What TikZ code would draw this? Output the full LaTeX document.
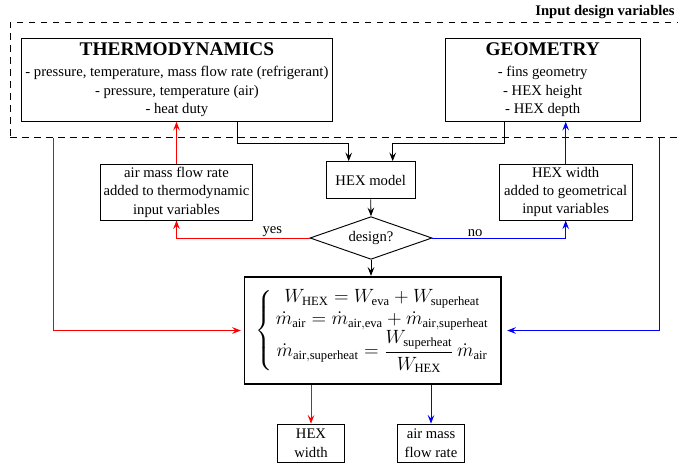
\documentclass[tikz,border=0pt]{standalone}
\usepackage{amsmath}
\usepackage{fontspec}
\setmainfont{Liberation Serif}
\usetikzlibrary{shapes.geometric,arrows.meta}

\begin{document}
\begin{tikzpicture}[x=0.75pt, y=-0.75pt,
                    every node/.style={font=\fontsize{11}{13.7}\selectfont,
                                       align=center,
                                       inner sep=1pt},
                    box/.style={draw, line width=0.7pt},
                    conn/.style={line width=0.6pt,
                                 -{Stealth[length=6.5pt, width=5pt, inset=2.5pt]}},
                    hot/.style={conn, red},
                    cold/.style={conn, blue}]

  \useasboundingbox (0,0) rectangle (678,466);

  \node[draw, line width=0.7pt, dash pattern=on 5pt off 4pt,
        minimum width=506pt, minimum height=86.8pt] (inputs) at (347.65,79.85) {};
  \node[anchor=base east, font=\fontsize{11}{13}\selectfont\bfseries] (inlabel) at (676.3,15.7) {Input design variables};

  \node[box, minimum width=233.8pt, minimum height=62.3pt] (thermo) at (176.9,79.8)
       {{\fontsize{14.5}{16}\selectfont\bfseries THERMODYNAMICS}\\[2pt]
        - pressure, temperature, mass flow rate (refrigerant)\\
        - pressure, temperature (air)\\
        - heat duty};
  \node[box, minimum width=146pt, minimum height=62.3pt] (geom) at (542.7,79.8)
       {{\fontsize{14.5}{16}\selectfont\bfseries GEOMETRY}\\[2pt]
        - fins geometry\\
        - HEX height\\
        - HEX depth};

  \node[box, minimum width=67pt, minimum height=28pt] (model) at (370.7,180.3) {HEX model};
  \node[box, minimum width=113.7pt, minimum height=41.8pt] (airadd) at (176.5,192.2)
       {air mass flow rate\\ added to thermodynamic\\ input variables};
  \node[box, minimum width=99.5pt, minimum height=41.8pt] (widthadd) at (565.7,192.2)
       {HEX width\\ added to geometrical\\ input variables};
  \node[box, diamond, aspect=2.8, inner sep=0pt,
        minimum width=91.5pt, minimum height=32pt] (design) at (371,238) {design?};

  \node[box, line width=1.3pt, minimum width=192.5pt, minimum height=80.7pt,
        font=\fontsize{13.5}{16}\selectfont] (eqs) at (372.7,330.5)
       {$\displaystyle\left\{\begin{array}{@{\,}c@{}}
          W_{\mathrm{HEX}} = W_{\mathrm{eva}} + W_{\mathrm{superheat}}\\
          \dot m_{\mathrm{air}} = \dot m_{\mathrm{air,eva}} + \dot m_{\mathrm{air,superheat}}\\
          \dot m_{\mathrm{air,superheat}} = \dfrac{W_{\mathrm{superheat}}}{W_{\mathrm{HEX}}}\,\dot m_{\mathrm{air}}
        \end{array}\right.$};

  \node[box, minimum width=50pt, minimum height=28.7pt] (outw) at (311,443.2) {HEX\\ width};
  \node[box, minimum width=50pt, minimum height=28.7pt] (outm) at (431,443.2) {air mass\\ flow rate};

  \draw[conn] ([xshift=45.6pt]thermo.south) -- ++(0,22) -| ([xshift=-16.5pt]model.north);
  \draw[conn] ([xshift=-29pt]geom.south) -- ++(0,22) -| ([xshift=16.5pt]model.north);
  \draw[conn] (model.south) -- (design.north);
  \draw[conn] (design.south) -- (design.south |- eqs.north);

  \draw[hot] (design.west) -| node[pos=0.14, above, text=black] {yes} (airadd.south);
  \draw[hot] (airadd.north) -- (airadd.north |- thermo.south);
  \draw[cold] (design.east) -| node[pos=0.16, above, text=black] {no} (widthadd.south);
  \draw[cold] (widthadd.north) -- (widthadd.north |- geom.south);

  \draw[hot, shorten >=2pt] ([xshift=33pt]inputs.south west) |- (eqs.west);
  \draw[cold, shorten >=4pt] ([xshift=-19.7pt]inputs.south east) |- (eqs.east);

  \foreach \o/\c in {outw/red, outm/blue} {
          \draw[conn, \c] (\o.north |- eqs.south) -- (\o.north);
      }
\end{tikzpicture}
\end{document}
